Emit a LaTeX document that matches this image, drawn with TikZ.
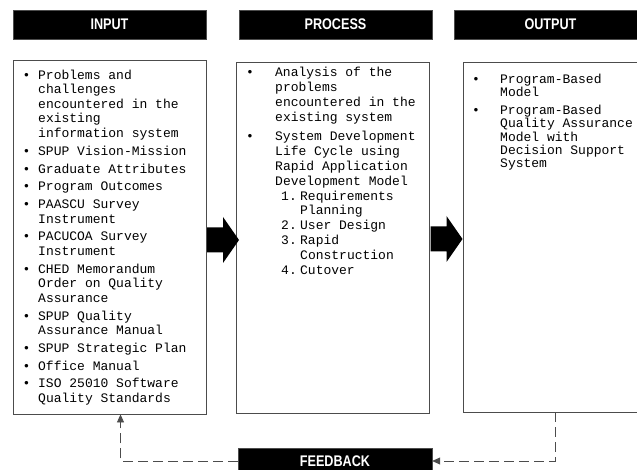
\documentclass[tikz,border=0pt]{standalone}
\usepackage{fontspec}
\newfontfamily\boxfont[WordSpace={1,0,0}]{Liberation Mono}
\newfontfamily\headfont[FakeStretch=0.82]{Liberation Sans}
\usetikzlibrary{arrows.meta}

% bulleted and numbered paragraphs with a hanging indent
\newcommand{\bitem}[2]{\hangindent=#1\hangafter=1\noindent\makebox[#1][l]{\textbullet}#2\par}
\newcommand{\nitem}[2]{\hangindent=54pt\hangafter=1\noindent\makebox[54pt][l]{\hspace{35pt}#1}#2\par}
% gap between items, full-width spaces
\newcommand{\listsetup}[1]{\setlength{\parskip}{#1}\spaceskip=0pt\xspaceskip=0pt\relax}

\tikzset{
  headbox/.style={fill=black, draw=black!70, minimum width=193pt, minimum height=29pt, inner sep=0pt,
    text=white, font=\headfont\bfseries\fontsize{15.4}{16}\selectfont},
  listbox/.style={draw=black!70, line width=0.8pt, inner sep=0pt},
  boxtext/.style={anchor=base west, inner sep=0pt, align=left, font=\boxfont\fontsize{13}{14.5}\selectfont},
  fbline/.style={draw=black!70, line width=0.8pt, dash pattern=on 10pt off 5pt,
    -{Triangle[length=8pt,width=7pt]}},
  bigarrow/.pic={\fill (-16,-12.5) -- (0,-12.5) -- (0,-23) -- (16,0) -- (0,23) -- (0,12.5) -- (-16,12.5) -- cycle;}
}

\begin{document}
\begin{tikzpicture}[x=1pt, y=-1pt]
  \useasboundingbox (0,0) rectangle (637,470);

  % headings
  \node[headbox] (inhead) at (109.5,24.5) {INPUT};
  \node[headbox] (prochead) at (335.5,24.5) {PROCESS};
  \node[headbox] (outhead) at (550.5,24.5) {OUTPUT};

  % the three boxes
  \node[listbox, minimum width=193pt, minimum height=354pt] (inbox) at (109.5,237) {};
  \node[listbox, minimum width=193pt, minimum height=351pt] (procbox) at (332.5,237.5) {};
  \node[listbox, minimum width=184pt, minimum height=350pt] (outbox) at (555,237) {};

  \node[boxtext, text width=183pt] (intext) at (22.4,79.5) {\listsetup{3.3pt}%
    \bitem{15.6pt}{Problems and\newline challenges\newline encountered in the\newline existing\newline information system}
    \bitem{15.6pt}{SPUP Vision-Mission}
    \bitem{15.6pt}{Graduate Attributes}
    \bitem{15.6pt}{Program Outcomes}
    \bitem{15.6pt}{PAASCU Survey\newline Instrument}
    \bitem{15.6pt}{PACUCOA Survey\newline Instrument}
    \bitem{15.6pt}{CHED Memorandum\newline Order on Quality\newline Assurance}
    \bitem{15.6pt}{SPUP Quality\newline Assurance Manual}
    \bitem{15.6pt}{SPUP Strategic Plan}
    \bitem{15.6pt}{Office Manual}
    \bitem{15.6pt}{ISO 25010 Software\newline Quality Standards}};

  \node[boxtext, text width=180pt, font=\boxfont\fontsize{13}{14.9}\selectfont] (proctext) at (246,76.5) {\listsetup{4.4pt}%
    \bitem{29pt}{Analysis of the\newline problems\newline encountered in the\newline existing system}
    \bitem{29pt}{System Development\newline Life Cycle using\newline Rapid Application\newline Development Model}
    \setlength{\parskip}{0pt}%
    \nitem{1.}{Requirements\newline Planning}
    \nitem{2.}{User Design}
    \nitem{3.}{Rapid\newline Construction}
    \nitem{4.}{Cutover}};

  \node[boxtext, text width=165pt, font=\boxfont\fontsize{13}{13.2}\selectfont] (outtext) at (472,83.5) {\listsetup{4.8pt}%
    \bitem{28pt}{Program-Based\newline Model}
    \bitem{28pt}{Program-Based\newline Quality Assurance\newline Model with\newline Decision Support\newline System}};

  % block arrows between the boxes
  \pic at (223,240) {bigarrow};
  \pic at (446.5,239) {bigarrow};

  % feedback loop
  \node[headbox, minimum width=194pt, minimum height=26pt] (feedback) at (335,461) {FEEDBACK};
  \draw[fbline] (outbox.south) |- (feedback.east);
  \draw[fbline] (feedback.west) -| ([xshift=11pt]inbox.south);
\end{tikzpicture}
\end{document}
